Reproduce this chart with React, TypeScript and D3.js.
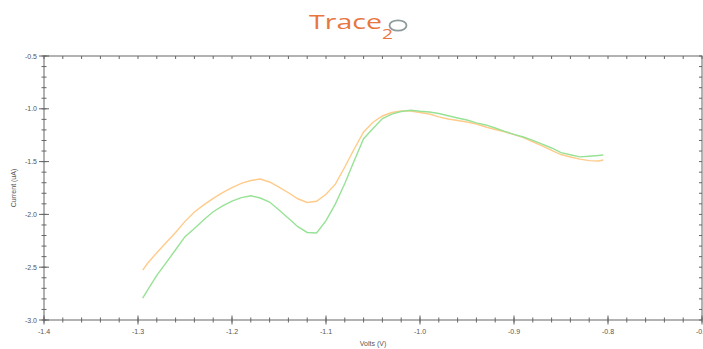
import React, { useEffect, useRef } from 'react';
import * as d3 from 'd3';

// voltage steps (V)
const volts = [
  -1.295, -1.29, -1.28, -1.27, -1.26, -1.25, -1.24, -1.23, -1.22, -1.21,
  -1.2, -1.19, -1.18, -1.17, -1.16, -1.15, -1.14, -1.13, -1.12, -1.11,
  -1.1, -1.09, -1.08, -1.07, -1.06, -1.05, -1.04, -1.03, -1.02, -1.01,
  -1.0, -0.99, -0.98, -0.97, -0.96, -0.95, -0.94, -0.93, -0.92, -0.91,
  -0.9, -0.89, -0.88, -0.87, -0.86, -0.85, -0.84, -0.83, -0.82, -0.81,
  -0.805,
];

// current (uA), orange trace
const orangeCurrent = [
  -2.527, -2.465, -2.363, -2.267, -2.171, -2.066, -1.977, -1.91, -1.849, -1.794,
  -1.746, -1.706, -1.679, -1.665, -1.693, -1.741, -1.795, -1.852, -1.887, -1.876,
  -1.81, -1.714, -1.551, -1.381, -1.22, -1.127, -1.068, -1.035, -1.021, -1.021,
  -1.035, -1.049, -1.077, -1.097, -1.111, -1.125, -1.144, -1.172, -1.196, -1.217,
  -1.245, -1.273, -1.312, -1.352, -1.394, -1.433, -1.456, -1.477, -1.491, -1.494,
  -1.485,
];

// current (uA), green trace
const greenCurrent = [
  -2.792, -2.719, -2.577, -2.456, -2.335, -2.211, -2.134, -2.05, -1.975, -1.92,
  -1.875, -1.841, -1.824, -1.845, -1.883, -1.958, -2.036, -2.116, -2.171, -2.176,
  -2.059, -1.9, -1.708, -1.492, -1.283, -1.187, -1.093, -1.051, -1.026, -1.014,
  -1.023, -1.03, -1.045, -1.066, -1.087, -1.106, -1.133, -1.153, -1.182, -1.214,
  -1.242, -1.267, -1.299, -1.335, -1.371, -1.415, -1.435, -1.455, -1.449, -1.442,
  -1.438,
];

const xTickLabels = [-1.4, -1.3, -1.2, -1.1, -1.0, -0.9, -0.8, -0.7];
const yTickLabels = [-0.5, -1.0, -1.5, -2.0, -2.5, -3.0];

const W = 703;
const H = 349;

const App = () => {
  const ref = useRef<SVGSVGElement>(null);

  useEffect(() => {
    const svg = d3.select(ref.current);
    svg.selectAll('*').remove();

    const left = 44, right = 702, top = 56, bottom = 320;
    const x = d3.scaleLinear().domain([-1.4, -0.7]).range([left, right]);
    const y = d3.scaleLinear().domain([-3.0, -0.5]).range([bottom, top]);

    const axisColor = '#666';
    const font = '"Liberation Sans", Arial, sans-serif';

    // minor ticks
    const xMinor = d3.range(0, 36).map(i => -1.4 + i * 0.02);
    const yMinor = d3.range(0, 26).map(i => -3.0 + i * 0.1);

    const g = svg.append('g');

    // frame
    g.append('rect')
      .attr('x', left).attr('y', top)
      .attr('width', right - left).attr('height', bottom - top)
      .attr('fill', 'none').attr('stroke', axisColor).attr('stroke-width', 1);

    // bottom ticks (crossing)
    g.selectAll('line.xb').data(xMinor).join('line')
      .attr('x1', d => x(d)).attr('x2', d => x(d))
      .attr('y1', bottom - 2.5).attr('y2', bottom + 2.5)
      .attr('stroke', axisColor);
    g.selectAll('line.xbm').data(xTickLabels).join('line')
      .attr('x1', d => x(d)).attr('x2', d => x(d))
      .attr('y1', bottom - 4.5).attr('y2', bottom + 4.5)
      .attr('stroke', axisColor);

    // top ticks
    g.selectAll('line.xt').data(xMinor).join('line')
      .attr('x1', d => x(d)).attr('x2', d => x(d))
      .attr('y1', top).attr('y2', top + 3)
      .attr('stroke', axisColor);

    // left ticks (crossing)
    g.selectAll('line.yl').data(yMinor).join('line')
      .attr('x1', left - 2.5).attr('x2', left + 2.5)
      .attr('y1', d => y(d)).attr('y2', d => y(d))
      .attr('stroke', axisColor);
    g.selectAll('line.ylm').data(yTickLabels).join('line')
      .attr('x1', left - 5).attr('x2', left + 5)
      .attr('y1', d => y(d)).attr('y2', d => y(d))
      .attr('stroke', axisColor);

    // right ticks
    g.selectAll('line.yr').data(yMinor).join('line')
      .attr('x1', right - 3).attr('x2', right)
      .attr('y1', d => y(d)).attr('y2', d => y(d))
      .attr('stroke', axisColor);

    // labels
    g.selectAll('text.xl').data(xTickLabels).join('text')
      .attr('x', d => x(d)).attr('y', bottom + 14)
      .attr('text-anchor', 'middle')
      .attr('font-family', font).attr('font-size', 7).attr('fill', '#555')
      .text(d => d.toFixed(1));
    g.selectAll('text.yl').data(yTickLabels).join('text')
      .attr('x', left - 7).attr('y', d => y(d) + 2.5)
      .attr('text-anchor', 'end')
      .attr('font-family', font).attr('font-size', 7).attr('fill', '#555')
      .text(d => d.toFixed(1));

    g.append('text')
      .attr('x', 373).attr('y', 346)
      .attr('text-anchor', 'middle')
      .attr('font-family', font).attr('font-size', 7).attr('fill', '#555')
      .text('Volts (V)');
    g.append('text')
      .attr('transform', `translate(16, ${(top + bottom) / 2}) rotate(-90)`)
      .attr('text-anchor', 'middle')
      .attr('font-family', font).attr('font-size', 7).attr('fill', '#555')
      .text('Current (uA)');

    // traces
    const line = d3.line<number>()
      .x((d, i) => x(volts[i]))
      .y(d => y(d));

    g.append('path').datum(orangeCurrent)
      .attr('d', line)
      .attr('fill', 'none').attr('stroke', '#ffcb8a').attr('stroke-width', 1.4);
    g.append('path').datum(greenCurrent)
      .attr('d', line)
      .attr('fill', 'none').attr('stroke', '#98e296').attr('stroke-width', 1.4);

    // logo
    const logo = svg.append('g');
    logo.append('text')
      .attr('x', 309).attr('y', 29)
      .attr('font-family', '"Open Sans", sans-serif').attr('font-size', 20)
      .attr('textLength', 73).attr('lengthAdjust', 'spacingAndGlyphs')
      .attr('fill', '#e8763f')
      .text('Trace');
    logo.append('text')
      .attr('x', 382).attr('y', 39)
      .attr('font-family', '"Open Sans", sans-serif').attr('font-size', 15)
      .attr('textLength', 11).attr('lengthAdjust', 'spacingAndGlyphs')
      .attr('fill', '#e8763f')
      .text('2');
    logo.append('ellipse')
      .attr('cx', 398).attr('cy', 25.5).attr('rx', 8.5).attr('ry', 5.2)
      .attr('fill', 'none').attr('stroke', '#8c9a9a').attr('stroke-width', 1.8);
  }, []);

  return (
    <svg
      ref={ref}
      width={W}
      height={H}
      style={{ position: 'absolute', left: 0, top: 0, background: '#fff' }}
    />
  );
};

export default App;
